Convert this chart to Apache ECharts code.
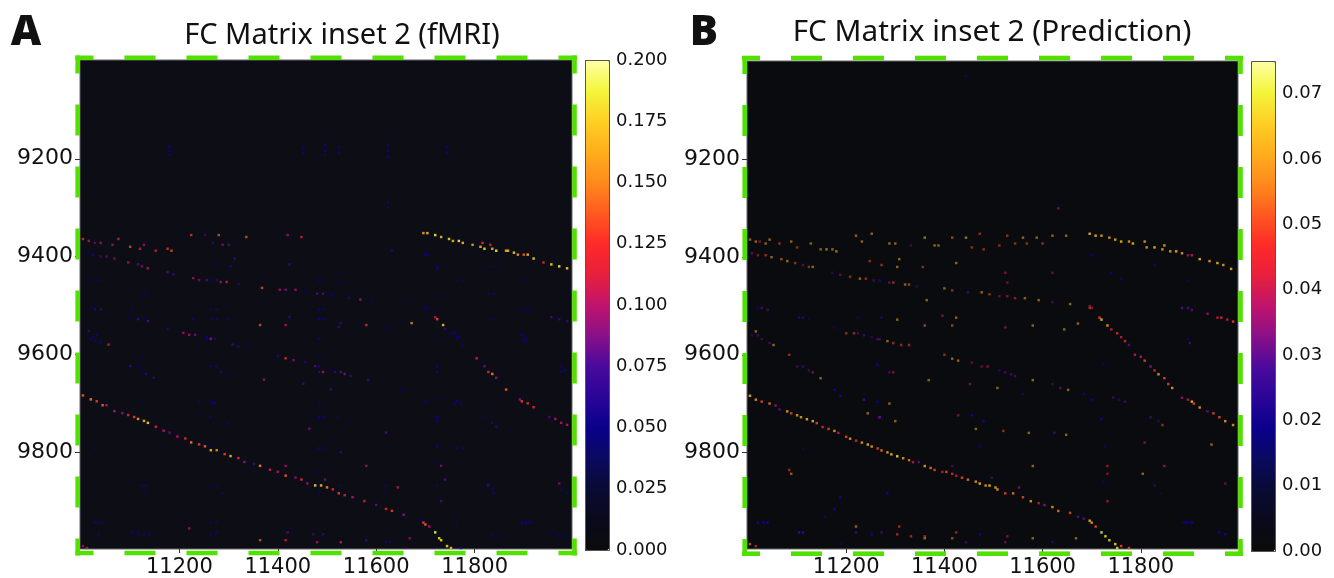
<!DOCTYPE html>
<html><head><meta charset="utf-8">
<style>html,body{margin:0;padding:0;background:#fff}#c{width:1334px;height:578px}</style>
<script src="https://cdn.jsdelivr.net/npm/echarts@6/dist/echarts.min.js"></script>
</head><body><div id="c"></div>
<script>
const xTicks=[11200,11400,11600,11800];
const yTicks=[9200,9400,9600,9800];
const barTicksA=[0,0.025,0.05,0.075,0.1,0.125,0.15,0.175,0.2];
const barTicksB=[0,0.01,0.02,0.03,0.04,0.05,0.06,0.07];
const colormap=['#0b0b0c','#0a0a1c','#0a0a34','#0a0a60','#0a008c','#2a0598','#4a0a9c','#8a1088','#c0146c','#e8203c','#ff2a28','#ff5a20','#ff8a1c','#ffae1c','#ffd024','#f2f63c','#ffffa8'];

// [column, row, value]
const fmriTopRight=[[11698,9355,.16],[11705,9355,.17],[11722,9359,.19],[11732,9361,.17],[11749,9367,.18],[11759,9369,.17],[11769,9371,.19],[11779,9374,.17],[11799,9378,.16],[11813,9382,.17],[11823,9384,.18],[11837,9386,.17],[11847,9389,.19],[11864,9389,.17],[11871,9391,.17],[11881,9395,.18],[11891,9396,.16],[11901,9398,.14],[11908,9399,.17],[11921,9405,.18],[11942,9412,.12],[11959,9417,.18],[11972,9422,.19],[11989,9427,.18],[11816,9373,.12],[11835,9376,.11]];
const fmriRowOne=[[11006,9364,.13],[11018,9369,.11],[11030,9373,.08],[11043,9373,.1],[11067,9376,.1],[11079,9367,.12],[11101,9382,.14],[11121,9386,.12],[11131,9376,.1],[11152,9388,.12],[11176,9386,.13],[11184,9391,.14],[11226,9359,.13],[11253,9356,.07],[11281,9357,.14],[11270,9373,.06],[11291,9376,.09],[11301,9376,.08],[11338,9362,.14],[11423,9359,.1],[11449,9361,.12]];
const fmriRowTwo=[[11016,9395,.05],[11026,9398,.06],[11043,9400,.07],[11054,9403,.08],[11071,9407,.09],[11098,9415,.1],[11117,9418,.08],[11125,9420,.09],[11138,9424,.11],[11178,9434,.08],[11189,9437,.07],[11230,9446,.1],[11240,9448,.09],[11257,9450,.08],[11267,9449,.05],[11277,9449,.06],[11287,9454,.1],[11297,9454,.12],[11321,9456,.06],[11369,9465,.14],[11406,9469,.1],[11419,9471,.09],[11436,9471,.1],[11457,9473,.05],[11480,9476,.08],[11494,9476,.08],[11508,9481,.05],[11515,9482,.05],[11545,9486,.06],[11569,9488,.1],[11593,9491,.05],[11657,9498,.04],[11701,9509,.05],[11705,9507,.05]];
const fmriSteep=[[11722,9527,.1],[11726,9531,.13],[11736,9541,.17],[11743,9549,.06],[11752,9558,.05],[11766,9568,.05],[11776,9580,.05],[11806,9609,.11],[11823,9626,.08],[11830,9636,.12],[11837,9641,.15],[11847,9651,.09],[11867,9673,.14],[11894,9695,.09],[11898,9697,.13],[11908,9701,.12],[11921,9711,.12],[11955,9728,.07],[11965,9735,.1],[11979,9741,.1],[11991,9746,.1]];
const fmriDiagonal=[[11004,9686,.14],[11020,9694,.15],[11033,9699,.13],[11047,9704,.14],[11054,9707,.1],[11071,9716,.1],[11084,9720,.09],[11098,9726,.12],[11108,9730,.13],[11118,9735,.16],[11128,9739,.17],[11138,9743,.18],[11152,9750,.11],[11169,9757,.1],[11182,9762,.08],[11196,9769,.1],[11213,9775,.12],[11226,9781,.15],[11240,9786,.13],[11253,9790,.14],[11267,9796,.17],[11277,9799,.15],[11294,9806,.13],[11306,9809,.17],[11321,9815,.12],[11335,9820,.09],[11355,9824,.07],[11367,9831,.15],[11386,9837,.11],[11402,9843,.1],[11419,9849,.14],[11436,9853,.09],[11450,9858,.12],[11463,9864,.09],[11478,9868,.18],[11491,9871,.17],[11503,9875,.15],[11512,9879,.12],[11525,9884,.13],[11539,9888,.11],[11552,9892,.1],[11576,9901,.11],[11600,9909,.08],[11620,9917,.12],[11633,9922,.13],[11657,9928,.09],[11694,9940,.05],[11699,9945,.13],[11701,9949,.14],[11708,9952,.1],[11720,9966,.19],[11728,9976,.18],[11735,9983,.18],[11745,9993,.18],[11754,9998,.17],[11772,9998,.06]];
const fmriScatter=[[11020,9507,.05],[11030,9508,.06],[11043,9510,.07],[11101,9527,.05],[11118,9529,.07],[11128,9531,.05],[11138,9533,.08],[11179,9548,.06],[11209,9556,.1],[11220,9560,.1],[11233,9561,.09],[11257,9568,.05],[11267,9569,.1],[11274,9571,.06],[11311,9580,.07],[11321,9584,.06],[11340,9587,.05],[11365,9541,.14],[11419,9541,.11],[11424,9527,.07],[11304,9423,.06],[11277,9418,.05],[11314,9406,.07],[11424,9416,.07],[11402,9605,.06],[11419,9610,.13],[11433,9614,.09],[11457,9618,.06],[11477,9626,.08],[11487,9627,.06],[11494,9638,.1],[11487,9638,.07],[11057,9583,.12],[11016,9554,.07],[11026,9566,.05],[11043,9575,.05],[11101,9627,.07],[11118,9626,.05],[11125,9636,.05],[11135,9641,.06],[11150,9648,.07],[11372,9654,.1],[11455,9663,.07],[11287,9639,.06],[11301,9641,.05],[11247,9721,.04],[11301,9740,.05],[11467,9754,.09],[11364,9981,.14],[11423,9966,.08],[11417,9981,.12],[11474,9969,.07],[11494,9969,.07],[11480,9986,.1],[11006,9993,.1],[11013,9996,.11],[11223,9957,.1],[11416,9828,.1],[11525,9433,.05],[11530,9454,.05],[11633,9391,.06],[11530,9536,.07],[11526,9546,.07],[11583,9541,.13],[11620,9548,.05],[11672,9539,.16],[11508,9634,.05],[11518,9636,.07],[11528,9639,.08],[11539,9641,.09],[11549,9646,.07],[11584,9654,.07],[11510,9673,.07],[11655,9675,.05],[11623,9763,.08],[11530,9801,.07],[11583,9830,.1],[11735,9830,.09],[11741,9857,.08],[11735,9903,.08],[11974,9867,.09],[11830,9871,.07],[11644,9875,.11],[11583,9981,.07],[11528,9986,.12],[11671,9978,.09],[11499,9856,.09],[11898,9508,.05],[11908,9509,.05],[11959,9527,.08],[11972,9531,.07],[11989,9535,.07],[11823,9731,.05],[11837,9740,.06],[11845,9748,.06],[11959,9966,.05],[11972,9969,.05],[11989,9973,.05],[11250,9784,.05],[11270,9700,.05]];
const fmriFaint=[[11180,9176,.04],[11180,9184,.045],[11180,9192,.04],[11454,9176,.036],[11454,9188,.04],[11496,9174,.04],[11496,9184,.046],[11496,9194,.04],[11527,9176,.04],[11527,9188,.046],[11624,9174,.04],[11624,9186,.046],[11624,9196,.04],[11744,9178,.036],[11744,9190,.04],[11624,9290,.036],[11624,9300,.036],
[11022,9449,.034],[11032,9449,.036],[11042,9449,.032],[11125,9476,.034],[11135,9476,.034],[11267,9510,.036],[11277,9510,.036],[11105,9510,.032],[11484,9449,.036],[11494,9449,.036],[11484,9510,.042],[11492,9510,.042],[11484,9531,.046],[11492,9531,.046],[11228,9531,.036],[11270,9531,.04],[11278,9531,.04],[11300,9531,.036],[11022,9568,.042],[11030,9572,.046],[11034,9562,.042],[11040,9576,.04],[11256,9564,.046],[11266,9570,.048],[11484,9568,.038],[11124,9610,.032],[11266,9626,.042],[11276,9626,.042],[11028,9639,.03],[11484,9700,.034],[11266,9697,.046],[11274,9700,.042],[11124,9697,.03],[11240,9697,.032],[11484,9731,.046],[11492,9731,.046],[11266,9731,.036],[11028,9792,.034],[11038,9792,.034],[11120,9795,.03],[11484,9792,.038],[11494,9792,.038],[11266,9790,.032],[11125,9871,.038],[11135,9871,.038],[11135,9884,.034],[11266,9871,.034],[11278,9871,.034],[11288,9884,.036],[11484,9871,.034],[11484,9884,.034],[11028,9945,.042],[11036,9945,.046],[11044,9945,.042],[11266,9945,.036],[11276,9945,.034],[11106,9966,.042],[11118,9966,.042],[11130,9969,.04],[11266,9969,.042],[11276,9966,.044],[11038,9969,.038],[11142,9969,.036],
[11701,9398,.046],[11707,9398,.046],[11725,9420,.042],[11725,9426,.04],[11835,9420,.034],[11845,9422,.034],[11766,9449,.034],[11776,9449,.034],[11901,9449,.032],[11830,9476,.036],[11840,9476,.036],[11725,9510,.032],[11830,9531,.034],[11840,9531,.034],[11901,9568,.044],[11906,9574,.044],[11896,9562,.044],[11770,9564,.05],[11760,9558,.046],[11725,9626,.038],[11725,9636,.038],[11976,9626,.036],[11976,9638,.042],[11984,9634,.04],[11701,9697,.042],[11766,9696,.046],[11760,9700,.042],[11772,9700,.042],[11725,9731,.046],[11725,9738,.042],[11540,9736,.032],[11520,9731,.032],[11725,9790,.04],[11766,9792,.036],[11776,9792,.036],[11830,9792,.032],[11725,9871,.04],[11830,9866,.042],[11836,9876,.042],[11842,9886,.038],[11620,9871,.038],[11620,9884,.034],[11528,9871,.036],[11976,9876,.036],[11988,9886,.034],[11896,9945,.048],[11904,9945,.048],[11912,9945,.046],[11766,9945,.034],[11836,9969,.034],[11848,9969,.032],[11620,9985,.042],[11630,9985,.032],[11725,9690,.032],[11725,9820,.032],[11725,9570,.028],[11725,9480,.028],[11303,9700,.026],[11303,9600,.026],[11303,9500,.026],[11303,9900,.026],[11484,9600,.026],[11484,9840,.026]];

// [column, row, value]
const predTopRight=[[11699,9354,.065],[11709,9356,.065],[11722,9359,.06],[11736,9361,.06],[11750,9367,.062],[11763,9369,.065],[11777,9371,.06],[11787,9374,.065],[11811,9370,.06],[11814,9381,.06],[11828,9382,.065],[11845,9387,.06],[11849,9377,.06],[11862,9388,.06],[11872,9389,.065],[11885,9393,.06],[11896,9396,.035],[11906,9399,.04],[11923,9404,.065],[11940,9410,.06],[11957,9414,.065],[11970,9418,.06],[11987,9425,.065]];
const predRowOne=[[11006,9367,.06],[11016,9369,.06],[11027,9370,.04],[11037,9372,.06],[11047,9367,.06],[11064,9374,.05],[11090,9370,.06],[11100,9381,.05],[11130,9374,.06],[11151,9386,.06],[11162,9384,.065],[11173,9386,.06],[11183,9389,.065],[11223,9357,.06],[11253,9355,.06],[11235,9369,.06],[11289,9374,.06],[11300,9374,.06],[11335,9376,.03],[11363,9362,.065],[11380,9377,.06],[11390,9377,.06],[11418,9362,.055],[11446,9360,.065],[11473,9355,.05],[11456,9382,.05],[11481,9384,.05],[11530,9358,.05],[11560,9362,.06],[11590,9360,.06],[11620,9357,.06],[11650,9358,.06],[11515,9376,.05],[11545,9372,.05],[11570,9374,.05],[11600,9372,.05]];
const predRowTwo=[[11010,9394,.035],[11023,9396,.04],[11037,9398,.05],[11050,9401,.06],[11071,9406,.055],[11081,9408,.06],[11098,9413,.05],[11115,9416,.035],[11125,9420,.05],[11135,9423,.06],[11173,9432,.025],[11190,9436,.035],[11210,9440,.05],[11230,9444,.06],[11240,9446,.05],[11257,9448,.03],[11268,9449,.025],[11288,9452,.035],[11298,9454,.05],[11321,9457,.06],[11329,9457,.055],[11346,9461,.025],[11403,9467,.06],[11417,9469,.05],[11451,9472,.03],[11477,9474,.06],[11495,9476,.05],[11515,9480,.035],[11529,9482,.04],[11546,9484,.045],[11566,9486,.06],[11593,9489,.06],[11621,9493,.03],[11658,9498,.06],[11697,9501,.04],[11699,9505,.05],[11702,9507,.045]];
const predSteep=[[11719,9525,.05],[11723,9530,.065],[11734,9540,.06],[11743,9549,.04],[11753,9559,.045],[11763,9566,.04],[11770,9573,.045],[11779,9580,.03],[11790,9603,.04],[11801,9605,.04],[11811,9615,.05],[11821,9624,.035],[11829,9634,.045],[11838,9642,.06],[11848,9651,.05],[11858,9663,.05],[11867,9671,.06],[11885,9690,.035],[11896,9695,.04],[11906,9699,.065],[11911,9700,.05],[11923,9709,.06],[11936,9716,.03],[11950,9722,.05],[11963,9731,.05],[11974,9737,.06],[11989,9745,.06],[11887,9505,.03],[11896,9507,.03],[11906,9508,.03],[11936,9518,.035],[11957,9525,.04],[11967,9527,.045],[11977,9530,.04],[11989,9534,.05]];
const predDiagonal=[[11006,9687,.065],[11016,9693,.06],[11030,9697,.05],[11044,9702,.055],[11057,9707,.035],[11067,9712,.03],[11081,9718,.06],[11091,9722,.05],[11101,9727,.06],[11111,9731,.06],[11122,9735,.065],[11132,9739,.065],[11142,9743,.05],[11154,9749,.045],[11166,9754,.05],[11176,9758,.06],[11186,9763,.04],[11200,9768,.05],[11210,9773,.06],[11223,9778,.045],[11234,9783,.06],[11244,9787,.065],[11254,9791,.06],[11264,9794,.05],[11274,9797,.055],[11285,9801,.06],[11295,9805,.065],[11305,9808,.07],[11319,9813,.06],[11329,9816,.055],[11339,9820,.04],[11349,9823,.03],[11363,9828,.06],[11373,9832,.055],[11383,9836,.05],[11397,9841,.04],[11407,9843,.05],[11417,9846,.045],[11427,9849,.04],[11437,9852,.05],[11451,9856,.055],[11464,9862,.06],[11475,9865,.065],[11485,9869,.06],[11495,9871,.065],[11504,9875,.06],[11509,9879,.06],[11526,9884,.05],[11543,9887,.055],[11560,9892,.05],[11576,9901,.06],[11593,9907,.04],[11607,9911,.035],[11621,9915,.06],[11634,9920,.055],[11658,9927,.05],[11672,9932,.03],[11685,9938,.03],[11699,9943,.065],[11702,9947,.06],[11711,9955,.05],[11721,9966,.072],[11729,9974,.07],[11738,9983,.068],[11748,9991,.07],[11754,9998,.07],[11760,9994,.05],[11777,9996,.05]];
const predScatter=[[11249,9410,.05],[11274,9416,.05],[11305,9421,.06],[11310,9404,.06],[11356,9423,.05],[11424,9414,.06],[11366,9489,.06],[11524,9546,.04],[11581,9540,.06],[11672,9539,.06],[11646,9549,.06],[11509,9671,.06],[11624,9762,.03],[11573,9763,.06],[11650,9767,.06],[11522,9758,.05],[11582,9829,.06],[11735,9829,.045],[11735,9847,.04],[11735,9903,.045],[11849,9831,.045],[11974,9867,.035],[11804,9845,.06],[11947,9787,.06],[11811,9782,.04],[11526,9435,.04],[11530,9452,.035],[11621,9433,.035],[11498,9855,.03],[11553,9874,.04],[11582,9979,.06],[11670,9977,.06],[11526,9984,.035],[11529,9974,.04],[11621,9984,.025],[11512,9632,.025],[11526,9637,.03],[11539,9641,.03],[11546,9644,.03],[11583,9653,.06],[11621,9663,.03],[11638,9668,.035],[11654,9673,.06],[11746,9688,.03],[11756,9695,.025],[11770,9699,.03],[11821,9729,.03],[11838,9736,.025],[11845,9746,.05],[11896,9569,.02],[11902,9576,.03],[11831,9868,.025],[11020,9506,.02],[11030,9507,.03],[11040,9508,.03],[11105,9525,.025],[11115,9527,.025],[11125,9529,.02],[11179,9546,.02],[11190,9549,.02],[11203,9556,.05],[11217,9557,.05],[11227,9559,.03],[11237,9561,.03],[11254,9566,.025],[11264,9568,.03],[11271,9568,.03],[11285,9574,.06],[11298,9578,.05],[11315,9581,.05],[11329,9583,.05],[11363,9541,.055],[11418,9541,.055],[11424,9527,.06],[11274,9527,.025],[11305,9531,.06],[11227,9527,.02],[11397,9520,.04],[11016,9552,.06],[11010,9563,.025],[11023,9561,.03],[11030,9569,.03],[11044,9576,.03],[11054,9582,.06],[11084,9603,.05],[11101,9625,.03],[11115,9625,.03],[11125,9634,.03],[11135,9639,.04],[11149,9648,.06],[11288,9639,.03],[11298,9639,.04],[11371,9652,.06],[11403,9603,.05],[11417,9609,.06],[11431,9612,.06],[11458,9617,.035],[11478,9624,.035],[11488,9627,.04],[11454,9661,.04],[11291,9700,.06],[11244,9720,.06],[11271,9731,.03],[11302,9738,.06],[11465,9752,.06],[11088,9845,.06],[11084,9838,.05],[11223,9964,.03],[11223,9954,.06],[11274,9965,.03],[11307,9971,.05],[11333,9973,.05],[11361,9974,.05],[11363,9979,.06],[11418,9979,.055],[11424,9965,.05],[11445,9984,.03],[11006,9991,.06],[11016,9994,.05],[11308,9954,.05],[11417,9828,.03],[11431,9726,.04],[11632,9303,.04],[11632,9295,.015]];
const predFaint=[[11701,9695,.02],[11702,9396,.018],[11722,9733,.02],[11899,9945,.018],[11906,9945,.02],[11892,9945,.018],[11960,9965,.02],[11974,9969,.02],[11560,9683,.015],[11685,9683,.015],[11743,9433,.015],[11763,9447,.015],[11828,9416,.015],[11841,9886,.012],[11113,9795,.012],[11190,9894,.02],[11179,9916,.02],[11285,9884,.02],[11159,9935,.015],[11023,9945,.02],[11033,9945,.02],[11040,9945,.02],[11105,9965,.025],[11115,9965,.025],[11253,9971,.02],[11475,9969,.02],[11190,9988,.015],[11475,9790,.015],[11264,9622,.02],[11237,9692,.025],[11264,9699,.015],[11271,9731,.03],[11481,9736,.02],[11458,9726,.02],[11190,9684,.02],[11179,9673,.02],[11444,9031,.015],[11888,9945,.016],[11730,9790,.012],[11725,9860,.012],[11725,9620,.012],[11896,9450,.012]];

const BIN=4;
const xCats=[],yCats=[];
for(let i=0;i<250;i++){xCats.push(String(11000+i*BIN));yCats.push(String(9000+i*BIN));}
const toCell=c=>[Math.floor((c[0]-11000)/BIN),Math.floor((c[1]-9000)/BIN),c[2]];

const BLACK='#111';
const tickFont={fontFamily:'DejaVu Sans',color:BLACK};
function catX(i){return{type:'category',gridIndex:i,data:xCats,splitArea:{show:false},splitLine:{show:false},
 axisLine:{show:false},
 axisTick:{show:true,alignWithLabel:true,length:4,lineStyle:{color:'#333'},interval:(n,v)=>xTicks.includes(+v)},
 axisLabel:{...tickFont,fontSize:21,margin:8,interval:(n,v)=>xTicks.includes(+v)}};}
function catY(i){return{type:'category',gridIndex:i,data:yCats,inverse:true,splitArea:{show:false},splitLine:{show:false},
 axisLine:{show:false},
 axisTick:{show:true,alignWithLabel:true,length:5,lineStyle:{color:'#333'},interval:(n,v)=>yTicks.includes(+v)},
 axisLabel:{...tickFont,fontSize:22,margin:7,padding:[4,0,0,0],interval:(n,v)=>yTicks.includes(+v)}};}
function barX(i){return{type:'value',gridIndex:i,show:false,min:0,max:1};}
function barY(i,max,ticks,digits){return{type:'value',gridIndex:i,position:'right',min:0,max:max,splitLine:{show:false},
 axisLine:{show:false},
 axisTick:{show:true,length:4,lineStyle:{color:'#333'},customValues:ticks},
 axisLabel:{...tickFont,fontSize:18,margin:7,padding:[4,0,0,0],customValues:ticks,formatter:v=>v.toFixed(digits)}};}
function heat(i,cells,opacity){return{type:'heatmap',xAxisIndex:i,yAxisIndex:i,data:cells.map(toCell),progressive:0,animation:false,silent:true,
 itemStyle:{opacity},emphasis:{disabled:true}};}
function vm(s,max,left,top,h){return{type:'continuous',seriesIndex:s,min:0,max:max,left:left,top:top,itemWidth:24,itemHeight:h,padding:0,
 calculable:false,hoverLink:false,text:null,inRange:{color:colormap},outOfRange:{color:colormap[0]}};}
function dash(x1,y1,x2,y2){return{type:'line',z:1,silent:true,shape:{x1,y1,x2,y2},
 style:{stroke:'#52e000',lineWidth:4.6,lineDash:[31,31],lineDashOffset:13}};}
function outline(x,y,w,h){return{type:'rect',z:100,silent:true,shape:{x,y,width:w,height:h},style:{fill:'none',stroke:'#555',lineWidth:1}};}
function ttl(text,x,top,size,weight){return{text,left:x,top,textAlign:'center',padding:0,textStyle:{fontFamily:'Noto Sans',fontSize:size,fontWeight:weight,color:BLACK}};}

const option={
 animation:false,backgroundColor:'#fff',
 title:[ttl('FC Matrix inset 2 (fMRI)',342,21,29,400),ttl('FC Matrix inset 2 (Prediction)',992,18,29.7,400),ttl('A',26,12,42,900),ttl('B',704,12,42,900)],
 grid:[
  {left:80,top:60,width:492,height:490,show:true,backgroundColor:'#0c0d15',borderColor:'#666',borderWidth:1},
  {left:747,top:61,width:491,height:490,show:true,backgroundColor:'#0a0b0e',borderColor:'#666',borderWidth:1},
  {left:585,top:60,width:24,height:490},
  {left:1251,top:61,width:24,height:490}],
 xAxis:[catX(0),catX(1),barX(2),barX(3)],
 yAxis:[catY(0),catY(1),barY(2,.2,barTicksA,3),barY(3,.075,barTicksB,2)],
 visualMap:[vm([0,1,2],.2,585,60,490),vm([3,4,5],.075,1251,61,490)],
 series:[
  heat(0,fmriFaint,1),
  heat(0,[...fmriRowOne,...fmriRowTwo,...fmriScatter],.7),
  heat(0,[...fmriSteep,...fmriDiagonal,...fmriTopRight],.85),
  heat(1,predFaint,1),
  heat(1,[...predRowOne,...predRowTwo,...predScatter],.55),
  heat(1,[...predSteep,...predDiagonal,...predTopRight],.8)],
 graphic:[
  dash(75.5,57.7,577,57.7),dash(75.5,553,577,553),dash(77.7,55.5,77.7,555.5),dash(574.5,55.5,574.5,555.5),
  dash(742,58,1243,58),dash(742,553.7,1243,553.7),dash(744.7,56,744.7,556),dash(1240.5,56,1240.5,556),
  outline(585.5,60.5,24,490),outline(1251.5,61.5,24,490)]
};
echarts.init(document.getElementById('c'),null,{renderer:'canvas'}).setOption(option);
</script></body></html>
